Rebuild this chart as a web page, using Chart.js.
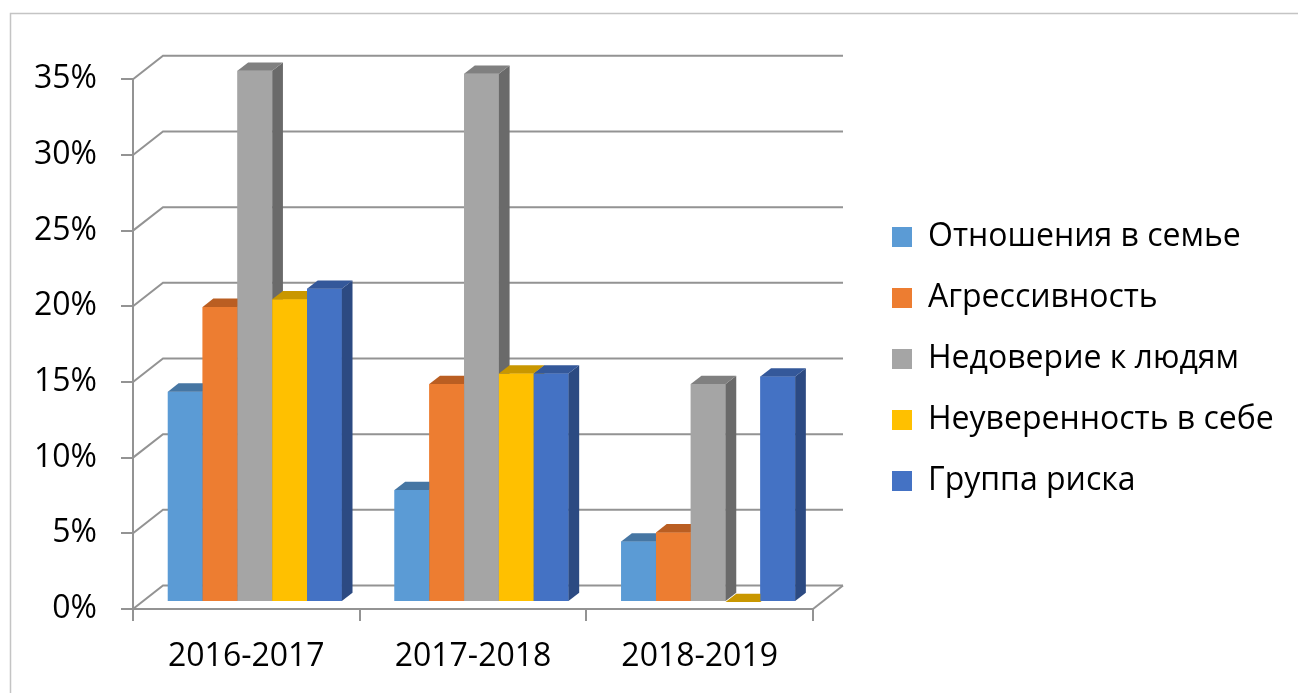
<!DOCTYPE html>
<html lang="ru">
<head>
    <meta charset="UTF-8">
    <title>Группа риска</title>
    <script src="https://cdn.jsdelivr.net/npm/chart.js"></script>
    <style>
        html, body {
            margin: 0;
            padding: 0;
            background: #fff;
        }

        .chart-box {
            position: relative;
            width: 1298px;
            height: 693px;
        }
    </style>
</head>
<body>
    <div class="chart-box">
        <canvas id="riskChart"></canvas>
    </div>

    <script>
        // Data (percent)
        const years = ['2016-2017', '2017-2018', '2018-2019'];
        const seriesNames = ['Отношения в семье', 'Агрессивность', 'Недоверие к людям', 'Неуверенность в себе', 'Группа риска'];
        const family = [13.9, 7.4, 4.0];
        const aggression = [19.5, 14.4, 4.6];
        const distrust = [35.1, 34.9, 14.4];
        const insecurity = [20.0, 15.1, 0];
        const riskGroup = [20.7, 15.1, 14.9];
        const yTicks = [0, 5, 10, 15, 20, 25, 30, 35];

        // Colors: front face, top face, side face
        const frontColors = ['#5B9BD5', '#ED7D31', '#A5A5A5', '#FFC000', '#4472C4'];
        const topColors = ['#4676A3', '#BA5E22', '#808080', '#C99700', '#34589A'];
        const sideColors = ['#3E6A93', '#A9541E', '#6A6A6A', '#B58800', '#2C4A82'];
        const gridColor = '#939393';
        const fontFamily = '"Open Sans", "DejaVu Sans", sans-serif';

        // 3D offsets
        const FRONT_SHIFT = { x: 8.5, y: -7 };
        const DEPTH = { x: 10.7, y: -8.3 };
        const WALL = { x: 30, y: -23.5 };

        const legendFont = 32;
        const measure = document.createElement('canvas').getContext('2d');
        measure.font = legendFont + 'px ' + fontFamily;
        const legendTextW = Math.max(...seriesNames.map(s => measure.measureText(s).width));

        const chart3d = {
            id: 'chart3d',
            beforeDraw(chart) {
                const ctx = chart.ctx;
                ctx.save();
                ctx.fillStyle = '#fff';
                ctx.fillRect(0, 0, chart.width, chart.height);
                ctx.strokeStyle = '#C4C4C4';
                ctx.lineWidth = 1.5;
                ctx.strokeRect(10.5, 13.5, 1400, 800);
                ctx.restore();
            },
            beforeDatasetsDraw(chart) {
                const { ctx, chartArea: a, scales: { y } } = chart;
                ctx.save();
                ctx.strokeStyle = gridColor;
                ctx.lineWidth = 2;
                y.ticks.forEach(t => {
                    const py = y.getPixelForValue(t.value);
                    ctx.beginPath();
                    ctx.moveTo(a.left, py);
                    ctx.lineTo(a.left + WALL.x, py + WALL.y);
                    ctx.lineTo(a.right + WALL.x, py + WALL.y);
                    ctx.stroke();
                });
                // right edge of the floor
                const p0 = y.getPixelForValue(0);
                ctx.beginPath();
                ctx.moveTo(a.right, p0);
                ctx.lineTo(a.right + WALL.x, p0 + WALL.y);
                ctx.stroke();
                ctx.restore();

                // bars stand a bit behind the front edge
                ctx.save();
                ctx.translate(FRONT_SHIFT.x, FRONT_SHIFT.y);
            },
            afterDatasetsDraw(chart) {
                const ctx = chart.ctx;
                // redraw left to right so every bar covers the side of its left neighbour
                chart.data.datasets.forEach((ds, i) => {
                    chart.getDatasetMeta(i).data.forEach(bar => {
                        const { x, y, width, base } = bar.getProps(['x', 'y', 'width', 'base'], true);
                        const l = x - width / 2;
                        const r = x + width / 2;
                        bar.draw(ctx);
                        // side
                        ctx.fillStyle = sideColors[i];
                        ctx.beginPath();
                        ctx.moveTo(r, y);
                        ctx.lineTo(r + DEPTH.x, y + DEPTH.y);
                        ctx.lineTo(r + DEPTH.x, base + DEPTH.y);
                        ctx.lineTo(r, base);
                        ctx.closePath();
                        ctx.fill();
                        // top
                        ctx.fillStyle = topColors[i];
                        ctx.beginPath();
                        ctx.moveTo(l, y);
                        ctx.lineTo(l + DEPTH.x, y + DEPTH.y);
                        ctx.lineTo(r + DEPTH.x, y + DEPTH.y);
                        ctx.lineTo(r, y);
                        ctx.closePath();
                        ctx.fill();
                    });
                });
                ctx.restore();
            }
        };

        const seriesData = [family, aggression, distrust, insecurity, riskGroup];

        new Chart(document.getElementById('riskChart'), {
            type: 'bar',
            data: {
                labels: years,
                datasets: seriesData.map((values, i) => ({
                    label: seriesNames[i],
                    data: values,
                    backgroundColor: frontColors[i],
                    borderWidth: 0,
                    barPercentage: 1,
                    categoryPercentage: 0.7675,
                    clip: false
                }))
            },
            options: {
                responsive: true,
                maintainAspectRatio: false,
                animation: false,
                devicePixelRatio: 1,
                layout: {
                    padding: { left: 0, top: 79.3, right: 360 - legendTextW, bottom: 0 }
                },
                scales: {
                    x: {
                        grid: { offset: true, drawOnChartArea: false, tickLength: 12, color: gridColor, lineWidth: 2 },
                        border: { color: gridColor, width: 2 },
                        ticks: { color: '#000', padding: 17, font: { family: fontFamily, size: 32 } },
                        afterFit: s => { s.height = 693 - 609; }
                    },
                    y: {
                        min: 0,
                        max: 35,
                        afterBuildTicks: s => { s.ticks = yTicks.map(v => ({ value: v })); },
                        grid: { drawOnChartArea: false, tickLength: 12, color: gridColor, lineWidth: 2 },
                        border: { color: gridColor, width: 2 },
                        ticks: {
                            color: '#000',
                            padding: 24,
                            font: { family: fontFamily, size: 32 },
                            callback: v => v + '%'
                        },
                        afterFit: s => { s.width = 133; }
                    },
                    // empty spacer between the back wall and the legend
                    spacer: {
                        type: 'linear',
                        position: 'right',
                        grid: { display: false },
                        ticks: { display: false },
                        border: { display: false },
                        afterFit: s => { s.width = 50; }
                    }
                },
                plugins: {
                    legend: {
                        position: 'right',
                        align: 'start',
                        maxWidth: 600,
                        // empty title only pushes the items down
                        title: { display: true, text: '', font: { size: 10, lineHeight: 1.2 }, padding: { top: 100.7, bottom: 0 } },
                        labels: {
                            boxWidth: 20,
                            boxHeight: 20,
                            padding: 29,
                            color: '#000',
                            font: { family: fontFamily, size: legendFont }
                        }
                    },
                    tooltip: { enabled: false }
                }
            },
            plugins: [chart3d]
        });
    </script>
</body>
</html>
